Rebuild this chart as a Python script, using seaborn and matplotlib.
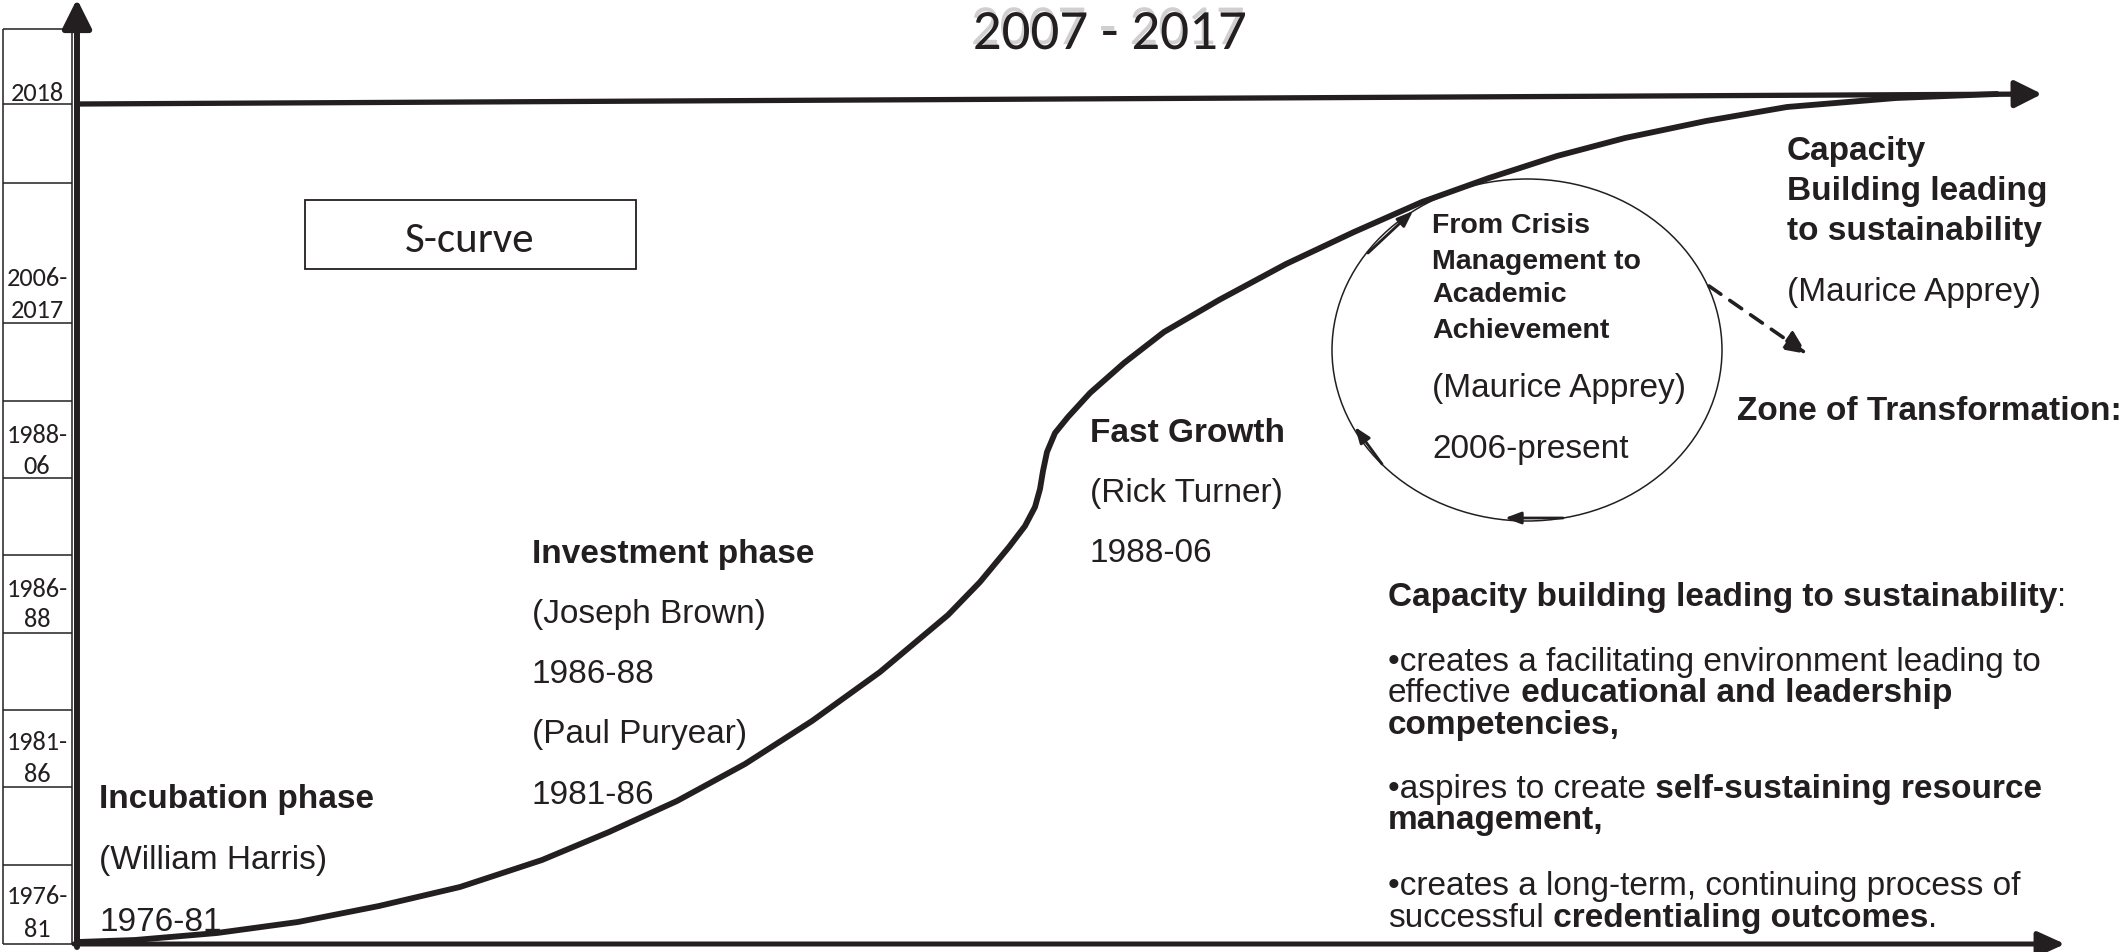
import matplotlib
matplotlib.use("Agg")
import matplotlib.pyplot as plt
import matplotlib.patheffects as pe
from matplotlib import font_manager
from matplotlib.patches import Ellipse, Rectangle
import seaborn as sns
import pandas as pd

# ---------------- data ----------------
curve_x = [78, 135, 217, 298, 379, 460, 542, 609, 677, 745, 812, 880, 948, 980, 1009, 1025,
           1035, 1040, 1043, 1047, 1055, 1068, 1090, 1124, 1164, 1219, 1286, 1354, 1422,
           1489, 1557, 1625, 1706, 1787, 1896, 1997]
curve_y = [943, 941, 934, 923, 907, 888, 861, 833, 802, 765, 722, 673, 616, 583, 548, 527,
           508, 490, 472, 453, 434, 418, 394, 364, 333, 301, 265, 233, 203,
           179, 157, 139, 122, 108, 99, 95]

box_edges = [30, 105, 184, 324, 402, 479, 556, 634, 711, 788, 866, 945]
year_labels = ["2018", "2006-", "2017", "1988-", "06", "1986-", "88", "1981-", "86", "1976-", "81"]
year_label_y = [101, 286, 318, 443, 474, 597, 627, 750, 782, 904, 937]

title = "2007 - 2017"
scurve_label = "S-curve"

phase_lines = [
    ("Incubation phase", "bold", 99, 808),
    ("(William Harris)", "normal", 99, 869),
    ("1976-81", "normal", 99, 931),
    ("Investment phase", "bold", 532, 563),
    ("(Joseph Brown)", "normal", 532, 623),
    ("1986-88", "normal", 532, 683),
    ("(Paul Puryear)", "normal", 532, 743),
    ("1981-86", "normal", 532, 804),
    ("Fast Growth", "bold", 1090, 442),
    ("(Rick Turner)", "normal", 1090, 502),
    ("1988-06", "normal", 1090, 562),
]
circle_lines = [
    ("From Crisis", "bold", 233),
    ("Management to", "bold", 269),
    ("Academic", "bold", 302),
    ("Achievement", "bold", 338),
]
circle_lines2 = [
    ("(Maurice Apprey)", "normal", 397),
    ("2006-present", "normal", 458),
]
right_lines = [
    ("Capacity", "bold", 1787, 160),
    ("Building leading", "bold", 1787, 200),
    ("to sustainability", "bold", 1787, 240),
    ("(Maurice Apprey)", "normal", 1787, 301),
    ("Zone of Transformation:", "bold", 1737, 420),
]
block_lines = [
    [("Capacity building leading to sustainability", "bold"), (":", "normal")],
    [("\u2022creates a facilitating environment leading to", "normal")],
    [("effective", "normal"), (" educational and leadership", "bold")],
    [("competencies,", "bold")],
    [("\u2022aspires to create", "normal"), (" self-sustaining resource", "bold")],
    [("management,", "bold")],
    [("\u2022creates a long-term, continuing process of", "normal")],
    [("successful", "normal"), (" credentialing outcomes", "bold"), (".", "normal")],
]
block_y = [606, 671, 702, 734, 798, 829, 895, 927]

# ---------------- style ----------------
sns.set_theme(style="white")
avail = {f.name for f in font_manager.fontManager.ttflist}
def pick(*names):
    for n in names:
        if n in avail:
            return n
    return "DejaVu Sans"
SANS = pick("Liberation Sans", "Arial", "DejaVu Sans")
CAL = pick("Carlito", "Lato", "Open Sans", "DejaVu Sans")
plt.rcParams["font.family"] = [SANS, "DejaVu Sans"]

INK = "#231f20"
W, H = 2123, 953
fig = plt.figure(figsize=(W / 100, H / 100), dpi=100)
ax = fig.add_axes([0, 0, 1, 1])

# left column boxes
ax.vlines([3, 72], box_edges[0], box_edges[-1], color=INK, lw=1.1)
ax.hlines(box_edges, 3, 72, color=INK, lw=1.1)
for lab, y in zip(year_labels, year_label_y):
    ax.text(37, y, lab, family=CAL, fontsize=19, ha="center", va="baseline", color=INK)

# axes arrows
ax.annotate("", xy=(77, 0), xytext=(77, 948),
            arrowprops=dict(arrowstyle="-|>,head_length=1.1,head_width=0.55", lw=4.3,
                            color=INK, shrinkA=0, shrinkB=0, mutation_scale=16))
ax.annotate("", xy=(2065, 945), xytext=(74, 945),
            arrowprops=dict(arrowstyle="-|>,head_length=1.1,head_width=0.5", lw=3.6,
                            color=INK, shrinkA=0, shrinkB=0, mutation_scale=15))
ax.annotate("", xy=(2042, 95), xytext=(77, 105),
            arrowprops=dict(arrowstyle="-|>,head_length=1.1,head_width=0.55", lw=3.8,
                            color=INK, shrinkA=0, shrinkB=0, mutation_scale=15))

# S-curve
df = pd.DataFrame({"x": curve_x, "y": curve_y})
sns.lineplot(data=df, x="x", y="y", sort=False, estimator=None, ax=ax,
             color=INK, lw=4.2, solid_capstyle="round", solid_joinstyle="round")
ax.set_xlim(0, W)
ax.set_ylim(H, 0)
ax.axis("off")

# title with light embossed shadow (path effect, single text)
ax.text(1110, 50, title, family=CAL, fontsize=41, ha="center", va="baseline", color=INK,
        path_effects=[pe.SimplePatchShadow(offset=(-1.5, 3.5), shadow_rgbFace="#d0d0d0", alpha=1.0),
                      pe.Normal()])

# S-curve box
ax.add_patch(Rectangle((305, 201), 331, 69, fill=False, ec=INK, lw=1.3))
ax.text(470, 252, scurve_label, family=CAL, fontsize=31, ha="center", va="baseline", color=INK)

# phase labels
for s, w, x, y in phase_lines:
    ax.text(x, y, s, fontsize=24, fontweight=w, ha="left", va="baseline", color=INK)

# circle
ax.add_patch(Ellipse((1527, 351), 390, 342, fill=False, ec=INK, lw=1.1))
for s, w, y in circle_lines:
    ax.text(1432, y, s, fontsize=20.5, fontweight=w, ha="left", va="baseline", color=INK)
for s, w, y in circle_lines2:
    ax.text(1432, y, s, fontsize=24, fontweight=w, ha="left", va="baseline", color=INK)

small = dict(arrowstyle="-|>,head_length=0.8,head_width=0.3", lw=2.0, color=INK,
             shrinkA=0, shrinkB=0, mutation_scale=12)
ax.annotate("", xy=(1413, 212), xytext=(1368, 254), arrowprops=small)
ax.annotate("", xy=(1355, 428), xytext=(1382, 465), arrowprops=small)
ax.annotate("", xy=(1505, 519), xytext=(1563, 519), arrowprops=small)
ax.annotate("", xy=(1807, 355), xytext=(1709, 287),
            arrowprops=dict(arrowstyle="-|>,head_length=1.0,head_width=0.45", lw=2.6, color=INK,
                            linestyle=(0, (4, 3)), shrinkA=0, shrinkB=0, mutation_scale=14))

# right labels
for s, w, x, y in right_lines:
    ax.text(x, y, s, fontsize=24, fontweight=w, ha="left", va="baseline", color=INK)

# bottom-right block with mixed weights
for segs, y in zip(block_lines, block_y):
    prev = None
    for s, w in segs:
        if prev is None:
            prev = ax.text(1388, y, s, fontsize=24, fontweight=w, ha="left", va="baseline", color=INK)
        else:
            prev = ax.annotate(s, xy=(1, 0), xycoords=prev, fontsize=24, fontweight=w,
                               ha="left", va="bottom", color=INK)

fig.savefig("out.png", dpi=100, facecolor="white")
